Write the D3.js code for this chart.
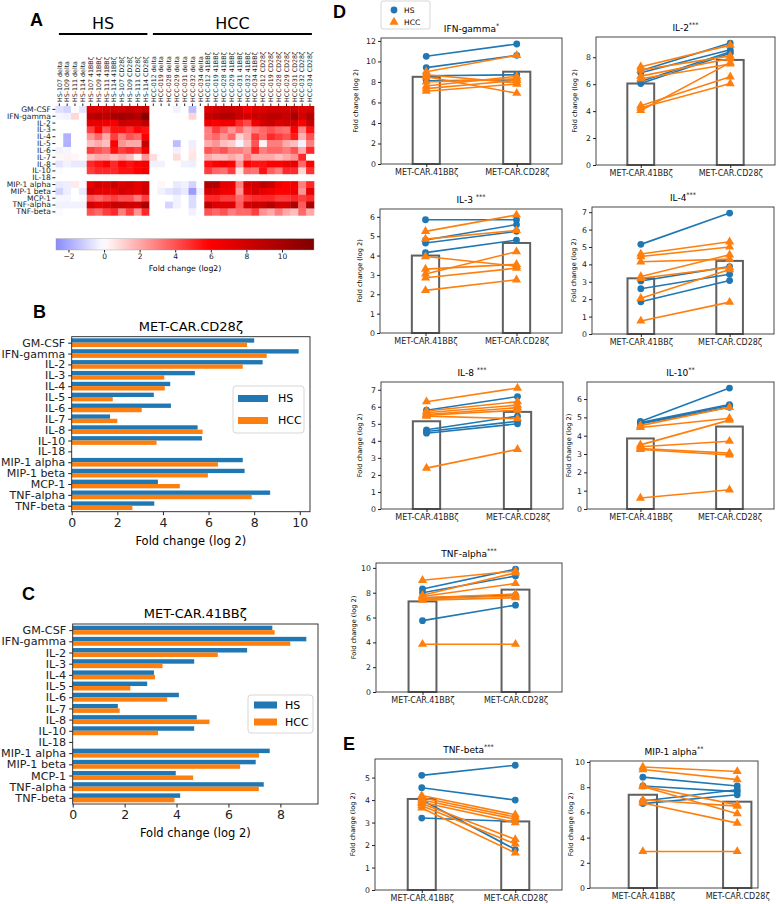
<!DOCTYPE html>
<html><head><meta charset="utf-8">
<script src="https://cdn.jsdelivr.net/npm/d3@7/dist/d3.min.js"></script>
<style>
html,body{margin:0;padding:0;background:#fff;}
svg{display:block;font-family:"DejaVu Sans",sans-serif;}
</style></head><body>
<svg id="fig" width="784" height="904"></svg>
<script>
// ---------------- DATA ----------------
const cytokines = ["GM-CSF","IFN-gamma","IL-2","IL-3","IL-4","IL-5","IL-6","IL-7","IL-8","IL-10","IL-18","MIP-1 alpha","MIP-1 beta","MCP-1","TNF-alpha","TNF-beta"];
const hsDonors = ["HS-107","HS-109","HS-111","HS-114"];
const hccDonors = ["HCC-012","HCC-019","HCC-028","HCC-029","HCC-031","HCC-032","HCC-034"];
const constructs = ["delta","41BBζ","CD28ζ"];
const groupNames = ["HS","HCC"];

// heatmap values (log2 fold change), rows = cytokines, columns = heatColumns
const heatValues = [
 [-0.7,-1.0,0,-0.6,  7.5,7.5,8,8.2,  8,8.5,8,8.6,  0,0,0,-0.3,0,-1.5,0,  7.5,8,8.5,8.5,8,6.5,7.5,  7.5,8,8,8,8.5,7.5,8],
 [-0.2,-0.3,0.9,0,  9,9.5,9,10,  10.5,10,9.5,11.8,  0,0,0,0,0,1.0,0,  8.5,9,9.5,9.5,8.5,8,8.5,  8.5,9,9,8.5,10,8,9.5],
 [0,0,0,-0.1,  7,7,6.5,6.2,  8.5,8,8,9,  0,0,0,0,0,0,0,  6.5,6,6.5,6.5,5,4.2,6.5,  8,8.5,7.5,8,8,6,8.5],
 [0,0,0,0,  4.5,6,4,5.5,  5.5,5,5.8,5.5,  0,0,0,0,0,0,0,  3,4.5,3.5,2.5,3.5,2.2,3,  3.5,4,3.5,3.3,6,2.8,5.5],
 [0,-1.8,0,0,  2.5,3.5,2,4.5,  3,4,3.5,6,  0,0,0,0,0,0,0,  3,3.5,2.5,3.5,1,2,4.5,  3.5,5,4.5,4,5.3,1.8,4],
 [0,-1.8,0,0,  1.5,2,1.5,6,  2.5,2,2,8.5,  0,0,0,-1.5,0,-0.4,0,  2,2.5,1.5,1.2,-0.2,1.5,4,  0.3,3,3,2,1.5,-0.3,3],
 [-0.3,-0.2,0,0,  4.5,4,3.5,5.5,  4.5,5,4.5,6.5,  0,0,0,-0.3,0,0.5,0,  4,3.5,4,3,3,2.5,5,  3,3.5,3.5,3,4,2,5],
 [0.2,0.3,0.2,0,  1.5,2,2,1.5,  2,1.5,0.3,2.5,  0.8,0,0,0.8,0,0.6,0,  2,1.5,1.5,2,1.5,3,2,  2,2,1.5,2,2.5,5,0],
 [-0.6,-0.3,-0.5,-0.5,  5,5.5,6,5,  6,5.5,6,6.5,  -0.3,-0.3,0,0,-0.3,-0.4,0,  5.5,6,6.5,6,2.5,6,5.5,  5.5,6,6,6.5,7,3.5,6],
 [-0.1,0,0,0,  4.5,5,5,5,  5.5,5.5,6,6.5,  0,0,0,0,0,0,0,  4.5,3.5,3.3,4.5,0.6,3.4,3.2,  5.5,3.7,3,5,4.9,1,4.8],
 [0,0,0,0,  0,0,0,0,  0,0,0,0,  0,0,0,0,0,0,0,  0,0,0,0,0,0,0,  0,0,0,0,0,0,0],
 [-0.5,-0.4,0.5,-0.1,  7,8,7.5,8.5,  7.5,8,7,8,  0,0.2,0,-0.5,-0.3,-1.0,0,  9.5,9.5,7,7,3,8,8,  9,8.5,6.5,6,6.5,3,5],
 [-1.0,-0.4,0,-0.5,  8,7,7,7,  8,7.5,7,8,  0,-0.3,-0.6,-0.8,-0.5,-2.3,-0.3,  8,7.5,6.5,6.5,2.5,7,8,  7,6.5,6,6,6.5,2.5,7],
 [-0.2,-0.2,0,-0.1,  4,3.5,4,4.5,  4,4,3,4.5,  0,0,0,-0.3,0,-0.8,0,  5,5,4.5,4.5,3.5,4.5,5,  5,5,4.5,4.5,5,4.5,5],
 [-0.3,-0.3,-0.3,-0.3,  8,7,7.5,8.5,  8.5,8,8,10,  0,0,-1.0,-0.3,0,-0.8,0,  9,7.5,7.5,7.5,3.8,8,8.5,  8.5,9.5,8,8,9.7,3.8,9.8],
 [-0.1,0,0,0,  4,3.5,4.5,5,  3,4.5,2.5,5,  0,0,0,0,0,-0.3,0,  4,3.5,4,3,3.5,3.5,4.5,  2.5,2,3,2,1.5,3.5,2]
];
const colorbarTicks = [-2,0,2,4,6,8,10];

// Panel B (MET-CAR.CD28ζ) and C (MET-CAR.41BBζ) mean values
const cd28HS  = [8.0, 9.95, 8.37, 5.4, 4.32, 3.6, 4.35, 1.68, 5.52, 5.71, 0, 7.5, 7.58, 3.78, 8.7, 3.62];
const cd28HCC = [7.69, 8.55, 7.5, 4.06, 4.08, 1.8, 3.07, 2.0, 5.74, 3.72, 0, 6.41, 5.97, 4.74, 7.89, 2.66];
const bb41HS  = [7.69, 9.0, 6.72, 4.68, 3.13, 2.87, 4.09, 1.74, 4.78, 4.68, 0, 7.59, 7.05, 3.97, 7.36, 4.14];
const bb41HCC = [7.78, 8.38, 5.59, 3.46, 3.17, 2.22, 3.64, 1.81, 5.27, 3.29, 0, 7.18, 6.45, 4.64, 7.17, 3.92];

// Panels D/E paired values
const carNames = ["MET-CAR.41BBζ","MET-CAR.CD28ζ"];
const ifnHS41=[10.5,9.4,8.6,8.1], ifnHS28=[11.7,10.6,8.7,8.2];
const ifnHCC41=[9.0,8.7,8.5,8.0,7.6,7.35,7.1], ifnHCC28=[10.6,7.9,6.9,8.3,8.55,8.15,7.8];
const ifnBars=[8.5,9.0];
const il2HS41=[7.0,6.85,6.2,6.05], il2HS28=[9.05,8.55,8.4,8.3];
const il2HCC41=[7.3,7.05,6.6,6.4,4.4,4.25,4.05], il2HCC28=[8.9,8.1,7.9,7.5,6.55,6.05,7.6];
const il2Bars=[6.05,7.8];
const il3HS41=[5.85,4.8,4.65,4.15], il3HS28=[5.85,5.6,5.25,4.8];
const il3HCC41=[5.25,4.85,3.95,3.3,3.05,2.85,2.2], il3HCC28=[6.1,5.3,3.45,3.55,4.2,3.35,2.75];
const il3Bars=[4.0,4.65];
const il4HS41=[5.15,3.05,2.6,1.85], il4HS28=[6.95,3.87,3.43,3.07];
const il4HCC41=[4.6,4.45,4.15,3.3,3.2,2.05,0.75], il4HCC28=[5.3,5.0,4.3,4.55,3.83,3.7,1.83];
const il4Bars=[3.2,4.2];
const il8HS41=[5.8,4.65,4.55,4.45], il8HS28=[6.6,5.45,5.15,5.0];
const il8HCC41=[6.3,5.75,5.65,5.55,5.5,5.45,2.4], il8HCC28=[7.1,6.3,6.1,5.95,5.8,5.3,3.5];
const il8Bars=[5.15,5.7];
const il10HS41=[4.78,4.72,4.68,4.65], il10HS28=[6.6,5.7,5.65,5.55];
const il10HCC41=[4.55,4.45,3.5,3.4,3.3,3.25,0.6], il10HCC28=[5.55,4.95,4.85,3.7,3.05,2.95,1.05];
const il10Bars=[3.85,4.5];
const tnfaHS41=[8.3,8.0,7.6,5.75], tnfaHS28=[9.9,9.35,7.8,7.0];
const tnfaHCC41=[9.0,7.8,7.7,7.6,7.5,7.4,3.85], tnfaHCC28=[9.75,9.6,8.75,7.9,7.75,7.6,3.85];
const tnfaBars=[7.3,8.25];
const tnfbHS41=[5.1,4.55,4.0,3.2], tnfbHS28=[5.55,4.0,1.8,3.05];
const tnfbHCC41=[4.2,4.1,4.0,3.9,3.85,3.75,3.65], tnfbHCC28=[3.35,3.25,3.15,3.0,2.25,2.05,1.65];
const tnfbBars=[4.05,3.05];
const mipHS41=[8.8,8.1,6.9,6.7], mipHS28=[8.1,7.65,7.8,7.4];
const mipHCC41=[9.6,9.4,8.1,8.05,7.0,6.75,2.9], mipHCC28=[9.25,8.6,6.6,5.9,6.5,5.15,2.9];
const mipBars=[7.4,6.85];

// ---------------- DRAWING ----------------
const BLUE="#1f77b4", ORANGE="#ff7f0e", FONT="DejaVu Sans, sans-serif";
const svg=d3.select("#fig");

const heatColumns=[];
[hsDonors,hccDonors].forEach(donors=>constructs.forEach(c=>donors.forEach(d=>heatColumns.push(d+" "+c))));

// panel letters
[["A",30,26],["B",33,318],["C",22,600],["D",333,18],["E",343,750]].forEach(([t,x,y])=>
  svg.append("text").attr("x",x).attr("y",y).attr("font-size",18).attr("font-weight","bold")
     .attr("font-family","Liberation Sans, Arial, sans-serif").text(t));

function styleAxis(g,size){
  g.attr("font-family",FONT).attr("font-size",size).attr("color","#222");
  g.select(".domain").remove();
}

// ---- Panel A heatmap
(function(){
  const g=svg.append("g");
  const xH=d3.scaleBand().domain(heatColumns).range([55.4,313.9]);
  const yH=d3.scaleBand().domain(cytokines).range([106,215.3]);
  const heatColor=d3.scaleLinear().domain([-11.8,-5.9,0,5.9,11.8])
     .range(["#00004d","#0000ff","#ffffff","#ff0000","#800000"]).clamp(true);
  const cells=[];
  cytokines.forEach((c,i)=>heatColumns.forEach((col,j)=>cells.push({c,col,v:heatValues[i][j]})));
  g.selectAll("rect.cell").data(cells).join("rect").attr("class","cell")
    .attr("x",d=>xH(d.col)).attr("y",d=>yH(d.c))
    .attr("width",xH.bandwidth()+0.4).attr("height",yH.bandwidth()+0.4)
    .attr("fill",d=>heatColor(d.v));
  const ay=g.append("g").attr("transform","translate(55.4,0)")
    .call(d3.axisLeft(yH).tickSize(3).tickPadding(1.5));
  styleAxis(ay,7.6);
  const ax=g.append("g").attr("transform","translate(0,106)")
    .call(d3.axisTop(xH).tickSize(2.5).tickPadding(2));
  styleAxis(ax,6.3);
  ax.selectAll("text").attr("transform","rotate(-90)").attr("text-anchor","start")
    .attr("x",4).attr("y",0).attr("dy","0.35em");
  const groups=[[heatColumns[0],heatColumns[11]],[heatColumns[12],heatColumns[32]]];
  groups.forEach(([a,b],k)=>{
    const xa=xH(a)+3.5, xb=xH(b)+xH.bandwidth()-2;
    g.append("line").attr("x1",xa).attr("x2",xb).attr("y1",34).attr("y2",34).attr("stroke","#000").attr("stroke-width",2);
    g.append("text").attr("x",(xa+xb)/2).attr("y",29).attr("text-anchor","middle")
      .attr("font-size",16).attr("font-family",FONT).text(groupNames[k]);
  });
  const cb=d3.scaleLinear().domain([-2.7,11.8]).range([56,314]);
  const grad=svg.append("defs").append("linearGradient").attr("id","cbgrad");
  d3.range(0,41).forEach(k=>{
    const v=-2.7+k*14.5/40;
    grad.append("stop").attr("offset",(k/40*100)+"%").attr("stop-color",heatColor(v));
  });
  g.append("rect").attr("x",56).attr("y",238.7).attr("width",258).attr("height",11.3)
    .attr("fill","url(#cbgrad)").attr("stroke","#999").attr("stroke-width",0.4);
  const cax=g.append("g").attr("transform","translate(0,250)")
    .call(d3.axisBottom(cb).tickValues(colorbarTicks).tickSize(2.5).tickPadding(1.5));
  styleAxis(cax,7.5);
  g.append("text").attr("x",185).attr("y",271).attr("text-anchor","middle")
    .attr("font-size",7.8).attr("font-family",FONT).text("Fold change (log2)");
})();

// ---- Panels B & C
function barPanel(p){
  const g=svg.append("g");
  const xmax=1.05*d3.max([...p.hs,...p.hcc]);
  const x=d3.scaleLinear().domain([0,xmax]).range([p.x0,p.x1]);
  const y=d3.scaleLinear().domain([-0.55,cytokines.length-0.45]).range([p.y0,p.y1]);
  const bh=0.4;
  g.selectAll("rect.hs").data(p.hs).join("rect").attr("class","hs")
    .attr("x",x(0)).attr("y",(d,i)=>y(i-bh)).attr("width",d=>x(d)-x(0))
    .attr("height",y(bh)-y(0)).attr("fill",BLUE);
  g.selectAll("rect.hcc").data(p.hcc).join("rect").attr("class","hcc")
    .attr("x",x(0)).attr("y",(d,i)=>y(i)).attr("width",d=>x(d)-x(0))
    .attr("height",y(bh)-y(0)).attr("fill",ORANGE);
  g.append("rect").attr("x",p.x0).attr("y",p.y0).attr("width",p.x1-p.x0).attr("height",p.y1-p.y0)
    .attr("fill","none").attr("stroke","#222").attr("stroke-width",0.9);
  const ax=g.append("g").attr("transform",`translate(0,${p.y1})`)
    .call(d3.axisBottom(x).ticks(5).tickSize(3.5).tickPadding(3));
  styleAxis(ax,12.5);
  const ay=g.append("g").attr("transform",`translate(${p.x0},0)`)
    .call(d3.axisLeft(y).tickValues(d3.range(cytokines.length)).tickFormat(i=>cytokines[i]).tickSize(3.5).tickPadding(3));
  styleAxis(ay,p.labelSize);
  g.append("text").attr("x",(p.x0+p.x1)/2).attr("y",p.y0-6).attr("text-anchor","middle")
    .attr("font-size",13).attr("font-family",FONT).text(p.title);
  g.append("text").attr("x",(p.x0+p.x1)/2).attr("y",p.y1+33).attr("text-anchor","middle")
    .attr("font-size",11.5).attr("font-family",FONT).text("Fold change (log 2)");
  const L=p.legend;
  g.append("rect").attr("x",L.x).attr("y",L.y).attr("width",L.w).attr("height",L.h).attr("rx",3)
    .attr("fill","white").attr("fill-opacity",0.85).attr("stroke","#ccc").attr("stroke-width",0.8);
  groupNames.forEach((nm,k)=>{
    const cy=L.y+L.r0+k*L.dr;
    g.append("rect").attr("x",L.x+L.sx).attr("y",cy-3.5).attr("width",L.sw).attr("height",7)
      .attr("fill",k?ORANGE:BLUE);
    g.append("text").attr("x",L.x+L.tx).attr("y",cy).attr("dy","0.36em")
      .attr("font-size",11).attr("font-family",FONT).text(nm);
  });
}
barPanel({x0:71.7,x1:310,y0:336.7,y1:511.7,hs:cd28HS,hcc:cd28HCC,title:"MET-CAR.CD28ζ",labelSize:11,
  legend:{x:233,y:386,w:71,h:47,r0:12.5,dr:22,sx:5,sw:30,tx:45}});
barPanel({x0:72.7,x1:318,y0:624,y1:804,hs:bb41HS,hcc:bb41HCC,title:"MET-CAR.41BBζ",labelSize:11.2,
  legend:{x:248,y:695,w:65,h:38,r0:10,dr:17,sx:6,sw:23,tx:37}});

// ---- Panels D & E
function pairPanel(p){
  const g=svg.append("g");
  const all=[...p.hs41,...p.hs28,...p.hcc41,...p.hcc28,...p.bars];
  const ymax=1.05*d3.max(all);
  const x=d3.scaleLinear().domain(p.xlim).range([p.x0,p.x1]);
  const y=d3.scaleLinear().domain([0,ymax]).range([p.y1,p.y0]);
  g.selectAll("rect.bar").data(p.bars).join("rect").attr("class","bar")
    .attr("x",(d,i)=>x(i-0.15)).attr("y",d=>y(d)).attr("width",x(0.15)-x(-0.15))
    .attr("height",d=>y(0)-y(d)).attr("fill","white").attr("stroke","#606060").attr("stroke-width",2);
  const tri=d3.symbol().type(d3.symbolTriangle).size(36)();
  const series=[
    {a:p.hs41,b:p.hs28,color:BLUE,shape:"circle"},
    {a:p.hcc41,b:p.hcc28,color:ORANGE,shape:"tri"}];
  series.forEach(s=>{
    const pairs=s.a.map((v,i)=>[v,s.b[i]]);
    const sg=g.selectAll(null).data(pairs).join("g");
    sg.append("line").attr("x1",x(0)).attr("x2",x(1)).attr("y1",d=>y(d[0])).attr("y2",d=>y(d[1]))
      .attr("stroke",s.color).attr("stroke-width",1.6);
    [0,1].forEach(k=>{
      if(s.shape==="circle"){
        sg.append("circle").attr("cx",x(k)).attr("cy",d=>y(d[k])).attr("r",3.4).attr("fill",s.color);
      } else {
        sg.append("path").attr("d",tri).attr("transform",d=>`translate(${x(k)},${y(d[k])})`).attr("fill",s.color);
      }
    });
  });
  g.append("rect").attr("x",p.x0).attr("y",p.y0).attr("width",p.x1-p.x0).attr("height",p.y1-p.y0)
    .attr("fill","none").attr("stroke","#333").attr("stroke-width",0.9);
  const ay=g.append("g").attr("transform",`translate(${p.x0},0)`)
    .call(d3.axisLeft(y).ticks(p.nt).tickSize(3).tickPadding(2));
  styleAxis(ay,7.8);
  const ax=g.append("g").attr("transform",`translate(0,${p.y1})`)
    .call(d3.axisBottom(x).tickValues([0,1]).tickFormat(i=>carNames[i]).tickSize(3).tickPadding(2));
  styleAxis(ax,8);
  const t=g.append("text").attr("x",(p.x0+p.x1)/2).attr("y",p.y0-6).attr("text-anchor","middle")
    .attr("font-size",9).attr("font-family",FONT);
  t.append("tspan").text(p.title);
  t.append("tspan").attr("font-size",6.5).attr("dy",-4).text(p.stars);
  g.append("text").attr("transform",`translate(${p.x0-p.lab},${(p.y0+p.y1)/2}) rotate(-90)`)
    .attr("text-anchor","middle").attr("font-size",6.6).attr("font-family",FONT).text("Fold change (log 2)");
}
const std=[-0.5,1.5];
pairPanel({title:"IFN-gamma",stars:"*",x0:381,x1:562,y0:38,y1:164,xlim:std,nt:6,lab:23,hs41:ifnHS41,hs28:ifnHS28,hcc41:ifnHCC41,hcc28:ifnHCC28,bars:ifnBars});
pairPanel({title:"IL-2",stars:"***",x0:596,x1:775,y0:37,y1:165,xlim:std,nt:5,lab:19,hs41:il2HS41,hs28:il2HS28,hcc41:il2HCC41,hcc28:il2HCC28,bars:il2Bars});
pairPanel({title:"IL-3 ",stars:"***",x0:380,x1:562,y0:209,y1:333,xlim:std,nt:7,lab:18,hs41:il3HS41,hs28:il3HS28,hcc41:il3HCC41,hcc28:il3HCC28,bars:il3Bars});
pairPanel({title:"IL-4",stars:"***",x0:592,x1:774,y0:207,y1:334,xlim:[-0.55,1.5],nt:8,lab:16,hs41:il4HS41,hs28:il4HS28,hcc41:il4HCC41,hcc28:il4HCC28,bars:il4Bars});
pairPanel({title:"IL-8 ",stars:"***",x0:381,x1:563,y0:382,y1:509,xlim:std,nt:8,lab:19,hs41:il8HS41,hs28:il8HS28,hcc41:il8HCC41,hcc28:il8HCC28,bars:il8Bars});
pairPanel({title:"IL-10",stars:"**",x0:587,x1:774,y0:382,y1:509,xlim:[-0.6,1.5],nt:7,lab:16,hs41:il10HS41,hs28:il10HS28,hcc41:il10HCC41,hcc28:il10HCC28,bars:il10Bars});
pairPanel({title:"TNF-alpha",stars:"***",x0:376,x1:562,y0:563,y1:692,xlim:std,nt:5,lab:20,hs41:tnfaHS41,hs28:tnfaHS28,hcc41:tnfaHCC41,hcc28:tnfaHCC28,bars:tnfaBars});
pairPanel({title:"TNF-beta",stars:"***",x0:375,x1:562,y0:759,y1:890,xlim:std,nt:6,lab:20,hs41:tnfbHS41,hs28:tnfbHS28,hcc41:tnfbHCC41,hcc28:tnfbHCC28,bars:tnfbBars});
pairPanel({title:"MIP-1 alpha",stars:"**",x0:590,x1:758,y0:761,y1:888,xlim:[-0.56,1.22],nt:5,lab:17,hs41:mipHS41,hs28:mipHS28,hcc41:mipHCC41,hcc28:mipHCC28,bars:mipBars});

// D legend
(function(){
  const g=svg.append("g");
  g.append("rect").attr("x",381).attr("y",1).attr("width",49).attr("height",28).attr("rx",2)
    .attr("fill","white").attr("stroke","#ccc").attr("stroke-width",0.8);
  g.append("circle").attr("cx",394).attr("cy",10).attr("r",3.4).attr("fill",BLUE);
  g.append("path").attr("d",d3.symbol().type(d3.symbolTriangle).size(36)()).attr("transform","translate(394,22)").attr("fill",ORANGE);
  groupNames.forEach((nm,k)=>g.append("text").attr("x",404).attr("y",10+k*12).attr("dy","0.35em")
    .attr("font-size",7.5).attr("font-family",FONT).text(nm));
})();
</script></body></html>
